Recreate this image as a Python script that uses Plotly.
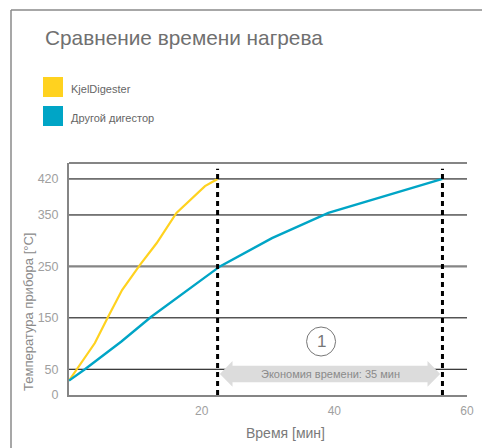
import plotly.graph_objects as go

# ---------------- data ----------------
kjel_time = [0, 3.9, 5.9, 8.0, 10.7, 13.2, 16.2, 20.5, 22.4]
kjel_temp = [28, 101, 152, 204, 253, 295, 354, 406, 420]
other_time = [0, 2.4, 7.9, 12.4, 22.75, 30.6, 39.1, 47.4, 56.3]
other_temp = [28, 50, 104, 152, 250, 305, 354, 386, 420]
y_ticks = [0, 50, 150, 250, 350, 420]
x_ticks = [20, 40, 60]
series_names = ["KjelDigester", "Другой дигестор"]
title_text = "Сравнение времени нагрева"
x_title = "Время [мин]"
y_title = "Температура прибора [°C]"
saving_text = "Экономия времени: 35 мин"
marker_label = "1"
highlight_level = 250

# ---------------- style ----------------
OFF = 8  # page body margin of the browser
W, H = 490 - OFF, 448 - OFF
PL, PR, PT, PB = 69 - OFF, 467 - OFF, 163 - OFF, 395 - OFF
YC = "#ffd21f"
BC = "#00a5c6"
FONT = "Liberation Sans, Arial, sans-serif"


def px(xp):
    return (xp - OFF - PL) / (PR - PL)


def py(yp):
    return (PB - (yp - OFF)) / (PB - PT)


fig = go.Figure()
fig.add_trace(go.Scatter(x=kjel_time, y=kjel_temp, mode="lines",
                         line=dict(color=YC, width=2.2), showlegend=False))
fig.add_trace(go.Scatter(x=other_time, y=other_temp, mode="lines",
                         line=dict(color=BC, width=2.4), showlegend=False))

t1, t2 = kjel_time[-1], other_time[-1]
# arrow polygon (double-headed), placed between the two end times
ay, shaft, head, hl, gap = 41, 16, 25, 1.9, 0.35
ax1, ax2 = t1 + gap, t2 - gap
arrow_x = [ax1, ax1 + hl, ax1 + hl, ax2 - hl, ax2 - hl, ax2, ax2 - hl, ax2 - hl, ax1 + hl, ax1 + hl, ax1]
arrow_y = [ay, ay + head, ay + shaft, ay + shaft, ay + head, ay, ay - head, ay - shaft, ay - shaft, ay - head, ay]
fig.add_trace(go.Scatter(x=arrow_x, y=arrow_y, mode="lines", fill="toself",
                         fillcolor="#dcdcdc", line=dict(width=0, color="#dcdcdc"),
                         showlegend=False, hoverinfo="skip"))

shapes = []
# gridlines (highlighted level drawn gray and thicker)
for yv in y_ticks:
    if yv == 0:
        continue
    hi = (yv == highlight_level)
    shapes.append(dict(type="line", xref="x domain", x0=0, x1=1, yref="y", y0=yv, y1=yv,
                       line=dict(color="#858585" if hi else "black", width=2.2 if hi else 1),
                       layer="below"))
# top border of plot
shapes.append(dict(type="line", xref="x domain", x0=0, x1=1, yref="y domain", y0=1, y1=1,
                   line=dict(color="#858585", width=2), layer="below"))
# dashed verticals
for t in (t1, t2):
    shapes.append(dict(type="line", xref="x", x0=t, x1=t, yref="y domain", y0=0, y1=0.975,
                       line=dict(color="black", width=3, dash="5px,4px"), layer="above"))
# circle marker
circ_x, circ_y = (t1 + t2) / 2 - 1.35, 104
shapes.append(dict(type="circle", xref="x", yref="y", xsizemode="pixel", ysizemode="pixel",
                   xanchor=circ_x, yanchor=circ_y, x0=-14.5, x1=14.5, y0=-14.5, y1=14.5,
                   line=dict(color="#777777", width=1)))
# outer frame
shapes.append(dict(type="line", xref="paper", yref="paper", x0=px(11), x1=px(11), y0=py(10), y1=py(460),
                   line=dict(color="#8a8a8a", width=1.5)))
shapes.append(dict(type="line", xref="paper", yref="paper", x0=px(11), x1=px(500), y0=py(10), y1=py(10),
                   line=dict(color="#8a8a8a", width=1.5)))
# legend squares
for i, c in enumerate((YC, BC)):
    top = 77 + i * 29
    shapes.append(dict(type="rect", xref="paper", yref="paper", x0=px(43), x1=px(63), y0=py(top + 20), y1=py(top),
                       fillcolor=c, line=dict(width=0)))

annotations = []
annotations.append(dict(text=title_text, xref="paper", yref="paper", x=px(43), y=py(37),
                        xanchor="left", yanchor="middle", showarrow=False,
                        font=dict(family=FONT, size=20.8, color="#707070")))
for i, name in enumerate(series_names):
    annotations.append(dict(text=name, xref="paper", yref="paper", x=px(69), y=py(89 + i * 29),
                            xanchor="left", yanchor="middle", showarrow=False,
                            font=dict(family=FONT, size=11, color="#666666")))
annotations.append(dict(text=y_title, xref="paper", yref="paper", x=px(28), y=py(312), textangle=-90,
                        xanchor="center", yanchor="middle", showarrow=False,
                        font=dict(family=FONT, size=13, color="#8a8a8a")))
annotations.append(dict(text=x_title, xref="paper", yref="paper", x=px(285), y=py(433),
                        xanchor="center", yanchor="middle", showarrow=False,
                        font=dict(family=FONT, size=14, color="#7a7a7a")))
annotations.append(dict(text=saving_text, xref="x", yref="y", x=(t1 + t2) / 2, y=ay,
                        xanchor="center", yanchor="middle", showarrow=False,
                        font=dict(family=FONT, size=11, color="#8a8a8a")))
annotations.append(dict(text=marker_label, xref="x", yref="y", x=circ_x, y=circ_y,
                        xanchor="center", yanchor="middle", showarrow=False,
                        font=dict(family=FONT, size=17, color="#777777")))

fig.update_layout(
    width=W, height=H,
    margin=dict(l=PL, r=W - PR, t=PT, b=H - PB),
    paper_bgcolor="white", plot_bgcolor="white",
    shapes=shapes, annotations=annotations,
    font=dict(family=FONT),
    showlegend=False,
)
fig.update_xaxes(range=[0, 60], tickvals=x_ticks, showgrid=False, zeroline=False,
                 showline=True, linecolor="#858585", linewidth=2, ticks="",
                 tickfont=dict(family=FONT, size=12, color="#a0a0a0"), ticklabelstandoff=4)
fig.update_yaxes(range=[0, 451], tickvals=y_ticks, showgrid=False,
                 zeroline=False, showline=True, linecolor="#858585", linewidth=2, ticks="",
                 tickfont=dict(family=FONT, size=12.5, color="#a0a0a0"), ticklabelstandoff=6)

fig.write_html("out.html")
